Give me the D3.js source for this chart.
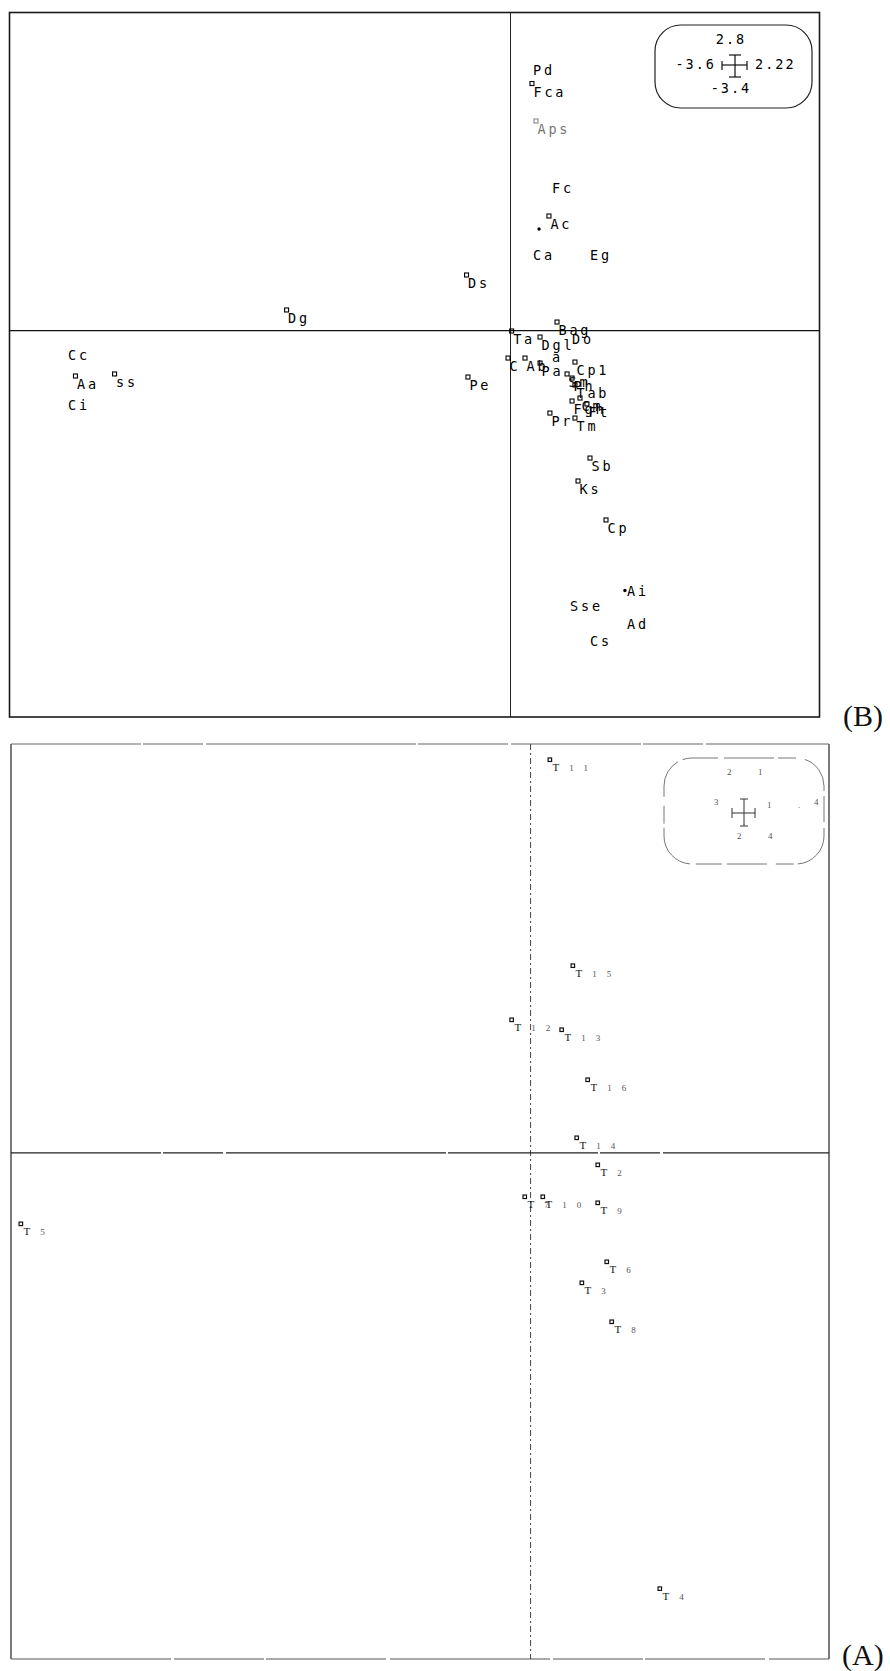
<!DOCTYPE html>
<html>
<head>
<meta charset="utf-8">
<script src="https://cdn.jsdelivr.net/npm/d3@7"></script>
<style>
  body { margin: 0; background: #fff; }
  svg { display: block; }
</style>
</head>
<body>
<svg id="chart" width="890" height="1671"></svg>
<script>
// ---------- Panel (B): species scores on the first two axes ----------
const extentBX = [-3.6, 2.22];
const extentBY = [-3.4, 2.8];

// species drawn with a point symbol
const speciesB  = ["Fca","Aps","Ac","Ds","Dg","Aa","ss","Pe","Sb","Ks","Cp","Pr","Tm","Cp1",
                   "Ta","Dgl","Bag","C","Ab","Pa","Sm","Ph","Tab","Cm","Fgh","Ft"];
const speciesBX = [0.154,0.183,0.276,-0.316,-1.609,-3.126,-2.845,-0.306,0.571,0.485,0.686,0.283,0.463,0.463,
                   0.008,0.212,0.334,-0.018,0.104,0.212,0.406,0.442,0.463,0.499,0.442,0.549];
const speciesBY = [2.175,1.845,1.009,0.490,0.182,-0.399,-0.381,-0.408,-1.121,-1.323,-1.666,-0.725,-0.769,-0.276,
                   -0.003,-0.056,0.076,-0.241,-0.241,-0.285,-0.381,-0.417,-0.478,-0.593,-0.619,-0.645];

// species whose symbol is hidden under the name
const namesOnlyB  = ["Pd","Fc","Ca","Eg","Cc","Ci","Ai","Sse","Ad","Cs","Do","a"];
const namesOnlyBX = [0.151,0.287,0.151,0.560,-3.190,-3.190,0.826,0.417,0.826,0.560,0.431,0.287];
const namesOnlyBY = [2.364,1.322,0.732,0.732,-0.148,-0.588,-2.225,-2.357,-2.515,-2.665,-0.007,-0.157];

// two species plotted as small dots
const dotsBX = [0.205, 0.822];
const dotsBY = [0.895, -2.287];

// ---------- Panel (A): sample scores ----------
const extentAX = [-2.42, 1.39];
const extentAY = [-2.6, 2.1];

const samplesA  = ["T11","T12","T13","T16","T14","T2","T7","T10","T9","T6","T3","T8","T5","T4","T15"];
const samplesAX = [0.091,-0.087,0.146,0.267,0.216,0.314,-0.026,0.058,0.314,0.356,0.240,0.379,-2.373,0.603,0.198];
const samplesAY = [2.018,0.682,0.631,0.374,0.076,-0.063,-0.227,-0.227,-0.258,-0.561,-0.669,-0.869,-0.366,-2.240,0.960];

// faint digits left inside the scale key of panel (A)
const keyAText = ["2","1","3","1",".","4","2","4"];
const keyADX   = [-17, 14, -30, 23, 54, 70, -7, 24];
const keyADY   = [-38,-38, -8, -5, -5, -8, 26, 26];

const fadedB = new Set(["Aps"]);

// ---------------------------------------------------------------------
const svg = d3.select("#chart");
const MONO = "'DejaVu Sans Mono', 'Liberation Mono', monospace";
const SERIF = "'Liberation Serif', 'DejaVu Serif', serif";

// ===== Panel (B) =====
const xB = d3.scaleLinear().domain(extentBX).range([9.5, 819.5]);
const yB = d3.scaleLinear().domain(extentBY).range([717, 12.5]);
const gB = svg.append("g");

// frame
gB.append("rect")
  .attr("x", xB(extentBX[0])).attr("y", yB(extentBY[1]))
  .attr("width", xB(extentBX[1]) - xB(extentBX[0]))
  .attr("height", yB(extentBY[0]) - yB(extentBY[1]))
  .attr("fill", "none").attr("stroke", "#1a1a1a").attr("stroke-width", 1.6);

// zero axes
gB.append("line")
  .attr("x1", xB(0)).attr("x2", xB(0))
  .attr("y1", yB(extentBY[1])).attr("y2", yB(extentBY[0]))
  .attr("stroke", "#222").attr("stroke-width", 1);
gB.append("line")
  .attr("x1", xB(extentBX[0])).attr("x2", xB(extentBX[1]))
  .attr("y1", yB(0)).attr("y2", yB(0))
  .attr("stroke", "#111").attr("stroke-width", 1.3);

const ptsB = speciesB.map((n, i) => ({ n, x: speciesBX[i], y: speciesBY[i] }));
const onlyB = namesOnlyB.map((n, i) => ({ n, x: namesOnlyBX[i], y: namesOnlyBY[i] }));

gB.selectAll("rect.sym").data(ptsB).join("rect")
  .attr("class", "sym")
  .attr("x", d => xB(d.x) - 2).attr("y", d => yB(d.y) - 2)
  .attr("width", 4).attr("height", 4)
  .attr("fill", "none")
  .attr("stroke", d => fadedB.has(d.n) ? "#888" : "#000")
  .attr("stroke-width", 1.1);

gB.selectAll("circle.dot").data(dotsBX.map((x, i) => ({ x, y: dotsBY[i] }))).join("circle")
  .attr("class", "dot")
  .attr("cx", d => xB(d.x)).attr("cy", d => yB(d.y)).attr("r", 1.7)
  .attr("fill", "#000");

gB.selectAll("text.lab").data(ptsB.concat(onlyB)).join("text")
  .attr("class", "lab")
  .attr("x", d => xB(d.x) + 1.5).attr("y", d => yB(d.y) + 13)
  .attr("font-family", MONO).attr("font-size", 13.5)
  .attr("letter-spacing", 2.8)
  .attr("fill", d => fadedB.has(d.n) ? "#777" : "#000")
  .text(d => d.n);

// scale key
const keyB = gB.append("g");
keyB.append("rect")
  .attr("x", 655).attr("y", 25).attr("width", 157).attr("height", 83)
  .attr("rx", 26).attr("ry", 26)
  .attr("fill", "none").attr("stroke", "#222").attr("stroke-width", 1.2);
const cxB = 735, cyB = 65;
const crossB = [
  [cxB, cyB - 10, cxB, cyB + 12], [cxB - 6, cyB - 10, cxB + 6, cyB - 10], [cxB - 6, cyB + 12, cxB + 6, cyB + 12],
  [cxB - 13, cyB, cxB + 12, cyB], [cxB - 13, cyB - 4, cxB - 13, cyB + 5], [cxB + 12, cyB - 4, cxB + 12, cyB + 5]
];
keyB.selectAll("line").data(crossB).join("line")
  .attr("x1", d => d[0]).attr("y1", d => d[1]).attr("x2", d => d[2]).attr("y2", d => d[3])
  .attr("stroke", "#111").attr("stroke-width", 1.2);
const keyLab = [
  { t: String(extentBY[1]), x: cxB - 4, y: cyB - 21, a: "middle" },
  { t: String(extentBX[0]), x: cxB - 19, y: cyB + 4, a: "end" },
  { t: String(extentBX[1]), x: cxB + 20, y: cyB + 4, a: "start" },
  { t: String(extentBY[0]), x: cxB - 4, y: cyB + 28, a: "middle" }
];
keyB.selectAll("text").data(keyLab).join("text")
  .attr("x", d => d.x).attr("y", d => d.y).attr("text-anchor", d => d.a)
  .attr("font-family", MONO).attr("font-size", 13.5).attr("letter-spacing", 2)
  .attr("fill", "#000").text(d => d.t);

svg.append("text").attr("x", 843).attr("y", 726)
  .attr("font-family", SERIF).attr("font-size", 30).attr("fill", "#111").text("(B)");

// ===== Panel (A) =====
const xA = d3.scaleLinear().domain(extentAX).range([11, 829]);
const yA = d3.scaleLinear().domain(extentAY).range([1659, 744]);
const gA = svg.append("g");

const L = xA(extentAX[0]), R = xA(extentAX[1]), T = yA(extentAY[1]), B = yA(extentAY[0]);
// worn frame: solid sides, broken top and bottom
gA.append("line").attr("x1", L).attr("x2", L).attr("y1", T).attr("y2", B)
  .attr("stroke", "#333").attr("stroke-width", 1.3);
gA.append("line").attr("x1", R).attr("x2", R).attr("y1", T).attr("y2", B)
  .attr("stroke", "#333").attr("stroke-width", 1.3);
gA.append("line").attr("x1", L).attr("x2", R).attr("y1", T).attr("y2", T)
  .attr("stroke", "#666").attr("stroke-width", 1.2).attr("stroke-dasharray", "130 2 60 3 210 2 90 3");
gA.append("line").attr("x1", L).attr("x2", R).attr("y1", B).attr("y2", B)
  .attr("stroke", "#555").attr("stroke-width", 1.2).attr("stroke-dasharray", "160 3 90 2 120 4");

// zero axes
gA.append("line").attr("x1", xA(0)).attr("x2", xA(0)).attr("y1", T).attr("y2", B)
  .attr("stroke", "#444").attr("stroke-width", 1).attr("stroke-dasharray", "6 3 2 3");
gA.append("line").attr("x1", L).attr("x2", R).attr("y1", yA(0)).attr("y2", yA(0))
  .attr("stroke", "#222").attr("stroke-width", 1.1).attr("stroke-dasharray", "150 2 60 3 220 2");

const ptsA = samplesA.map((n, i) => ({ n, x: samplesAX[i], y: samplesAY[i] }));
gA.selectAll("rect.sym").data(ptsA).join("rect")
  .attr("class", "sym")
  .attr("x", d => xA(d.x) - 2).attr("y", d => yA(d.y) - 2)
  .attr("width", 3.5).attr("height", 3.5)
  .attr("fill", "none").attr("stroke", "#111").attr("stroke-width", 1.2);

const labA = gA.selectAll("text.lab").data(ptsA).join("text")
  .attr("class", "lab")
  .attr("x", d => xA(d.x) + 2.5).attr("y", d => yA(d.y) + 11)
  .attr("font-family", SERIF).attr("font-size", 10)
  .attr("letter-spacing", 10);
labA.append("tspan").attr("fill", "#111").attr("font-size", 11).text(d => d.n.slice(0, 1));
labA.append("tspan").attr("fill", "#555").attr("font-size", 9).text(d => d.n.slice(1));

// scale key of panel (A)
const cxA = 744, cyA = 813;
gA.append("rect")
  .attr("x", 664).attr("y", 758).attr("width", 160).attr("height", 106)
  .attr("rx", 28).attr("ry", 28)
  .attr("fill", "none").attr("stroke", "#777").attr("stroke-width", 1)
  .attr("stroke-dasharray", "26 6 50 4 18 9 40 5");
const crossA = [
  [cxA, cyA - 14, cxA, cyA + 13], [cxA - 4, cyA - 14, cxA + 4, cyA - 14], [cxA - 4, cyA + 13, cxA + 4, cyA + 13],
  [cxA - 12, cyA, cxA + 11, cyA], [cxA - 12, cyA - 5, cxA - 12, cyA + 5], [cxA + 11, cyA - 5, cxA + 11, cyA + 5]
];
gA.selectAll("line.cross").data(crossA).join("line")
  .attr("class", "cross")
  .attr("x1", d => d[0]).attr("y1", d => d[1]).attr("x2", d => d[2]).attr("y2", d => d[3])
  .attr("stroke", "#333").attr("stroke-width", 1);
gA.selectAll("text.key").data(keyAText.map((t, i) => ({ t, dx: keyADX[i], dy: keyADY[i] }))).join("text")
  .attr("class", "key")
  .attr("x", d => cxA + d.dx).attr("y", d => cyA + d.dy)
  .attr("font-family", SERIF).attr("font-size", 9).attr("fill", "#555")
  .text(d => d.t);

svg.append("text").attr("x", 842).attr("y", 1665)
  .attr("font-family", SERIF).attr("font-size", 30).attr("fill", "#111").text("(A)");
</script>
</body>
</html>
